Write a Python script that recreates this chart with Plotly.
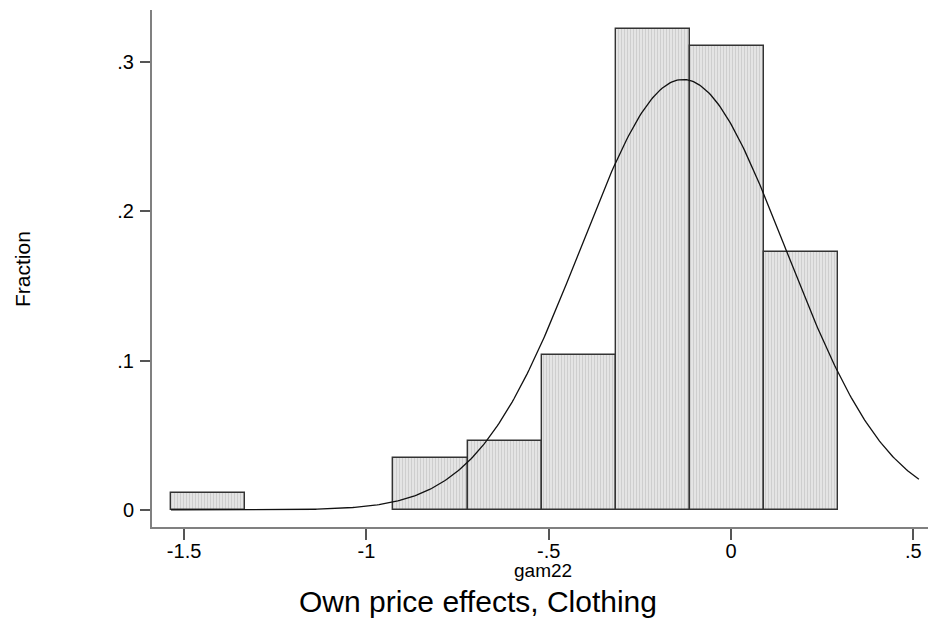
import numpy as np
import plotly.graph_objects as go

# Histogram of gam22 (fraction of observations per bin)
bin_start = -1.536
bin_width = 0.2033
fractions = [0.0115, None, None, 0.0345, 0.046, 0.1034, 0.3218, 0.3103, 0.1724]

# Normal density overlay (mean / sd of gam22), scaled to bin fractions
norm_mean = -0.132
norm_sd = 0.2816
curve_end = 0.515

x_tickvals = [-1.5, -1.0, -0.5, 0.0, 0.5]
x_ticktext = ["-1.5", "-1", "-.5", "0", ".5"]
y_tickvals = [0.0, 0.1, 0.2, 0.3]
y_ticktext = ["0", ".1", ".2", ".3"]

centers = [bin_start + bin_width * (i + 0.5) for i in range(len(fractions))]

xs = np.linspace(bin_start, curve_end, 400)
ys = bin_width * np.exp(-0.5 * ((xs - norm_mean) / norm_sd) ** 2) / (norm_sd * np.sqrt(2 * np.pi))

FONT = "Liberation Sans, Arial, Helvetica, sans-serif"
W, H = 928, 619
L, R, T, B = 152, 0, 10, 92
PW, PH = W - L - R, H - T - B


def px(x):
    return (x - L) / PW


def py(y):
    return (H - B - y) / PH


fig = go.Figure()
fig.add_trace(go.Bar(
    x=centers, y=fractions, width=bin_width,
    marker=dict(
        color="#dedede",
        line=dict(color="#333333", width=1.4),
        pattern=dict(shape="|", fgcolor="#b4b4b4", bgcolor="#e8e8e8", size=3, solidity=0.45),
    ),
    showlegend=False, hoverinfo="skip",
))
fig.add_trace(go.Scatter(
    x=xs, y=ys, mode="lines",
    line=dict(color="#111111", width=1.3),
    showlegend=False, hoverinfo="skip",
))

fig.update_layout(
    width=W, height=H,
    margin=dict(l=L, r=R, t=T, b=B, pad=0),
    paper_bgcolor="white", plot_bgcolor="white",
    font=dict(family=FONT, color="black", size=20),
    bargap=0,
    xaxis=dict(
        range=[-1.588, 0.540], showgrid=False, zeroline=False,
        showline=True, linecolor="#808080", linewidth=2,
        ticks="outside", ticklen=11, tickwidth=1.5, tickcolor="#555555",
        tickvals=x_tickvals, ticktext=x_ticktext,
        tickfont=dict(size=20), ticklabelstandoff=-6,
    ),
    yaxis=dict(
        range=[-0.0114, 0.3345], showgrid=False, zeroline=False,
        showline=True, linecolor="#808080", linewidth=2,
        ticks="outside", ticklen=10, tickwidth=1.5, tickcolor="#555555",
        tickvals=y_tickvals, ticktext=y_ticktext,
        tickfont=dict(size=20), ticklabelstandoff=2,
    ),
    annotations=[
        dict(text="gam22", x=px(543), y=py(570), xref="paper", yref="paper",
             xanchor="center", yanchor="middle", showarrow=False,
             font=dict(size=19), borderpad=0),
        dict(text="Own price effects, Clothing", x=px(478), y=py(601),
             xref="paper", yref="paper", xanchor="center", yanchor="middle",
             showarrow=False, font=dict(size=30), borderpad=0),
        dict(text="Fraction", x=px(22), y=py(269), xref="paper", yref="paper",
             xanchor="center", yanchor="middle", textangle=-90,
             showarrow=False, font=dict(size=21)),
    ],
)

fig.write_html("out.html")
